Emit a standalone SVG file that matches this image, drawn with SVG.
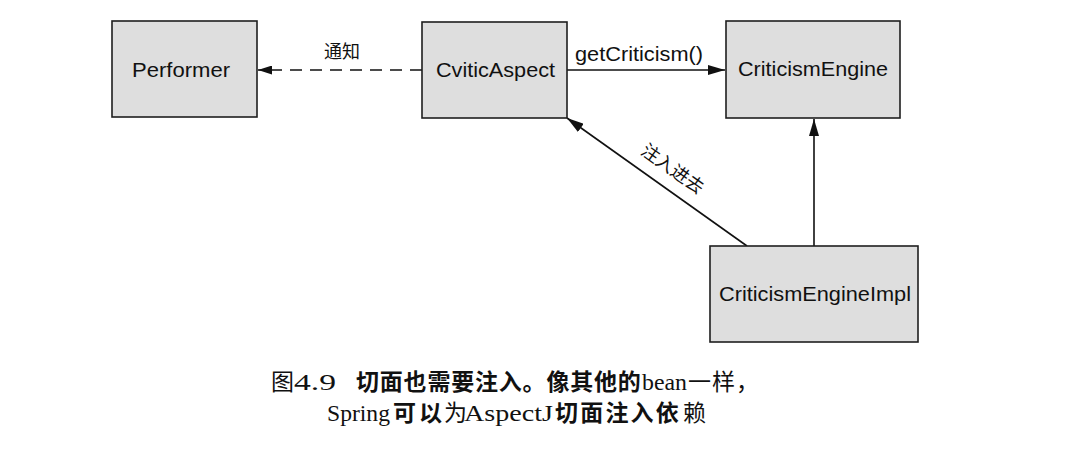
<svg xmlns="http://www.w3.org/2000/svg" width="1067" height="456" viewBox="0 0 1067 456">
<style>
.box{fill:#dedede;stroke:#1e1e1e;stroke-width:1.6}
.lbl{font-family:"Liberation Sans",Arial,sans-serif;font-size:21px;fill:#111}
.cjk{font-family:"Noto Sans CJK SC",sans-serif;font-size:18px;fill:#111}
.edge{stroke:#111;stroke-width:1.6;fill:none}
.cap{font-family:"Liberation Serif","Noto Sans CJK SC",serif;font-size:24px;fill:#111}
.b{font-family:"Noto Sans CJK SC",sans-serif;font-weight:700;font-size:23px}
.n{font-family:"Noto Sans CJK SC",sans-serif;font-weight:400;font-size:23px}
</style>
<defs>
<marker id="ah" markerUnits="userSpaceOnUse" markerWidth="18" markerHeight="10" refX="17" refY="5" orient="auto">
<path d="M0,0 L17,5 L0,10 z" fill="#111"/>
</marker>
<marker id="ahs" markerUnits="userSpaceOnUse" markerWidth="15" markerHeight="9" refX="14" refY="4.5" orient="auto">
<path d="M0,0 L14,4.5 L0,9 z" fill="#111"/>
</marker>
</defs>
<rect width="1067" height="456" fill="#fff"/>
<g id="connectors">
<line class="edge" x1="422" y1="70" x2="258" y2="70" stroke-dasharray="12 8" marker-end="url(#ahs)"/>
<line class="edge" x1="567" y1="70" x2="725" y2="70" marker-end="url(#ah)"/>
<line class="edge" x1="814" y1="246" x2="814" y2="119" marker-end="url(#ah)"/>
<line class="edge" x1="747" y1="246" x2="567" y2="118" marker-end="url(#ah)"/>
<text class="cjk" x="342" y="58" text-anchor="middle">通知</text>
<text class="lbl" x="575" y="61" textLength="128" lengthAdjust="spacingAndGlyphs">getCriticism()</text>
<text class="cjk" x="0" y="0" text-anchor="middle" font-size="19" transform="translate(669,174) rotate(35.4)">注入进去</text>
</g>
<g id="performer">
<rect class="box" x="112" y="21" width="145" height="96"/>
<text class="lbl" x="181" y="77" text-anchor="middle" textLength="98" lengthAdjust="spacingAndGlyphs">Performer</text>
</g>
<g id="cviticAspect">
<rect class="box" x="422" y="22" width="145" height="96"/>
<text class="lbl" x="495.5" y="77" text-anchor="middle" textLength="119" lengthAdjust="spacingAndGlyphs">CviticAspect</text>
</g>
<g id="criticismEngine">
<rect class="box" x="726" y="21" width="174" height="97"/>
<text class="lbl" x="813" y="76" text-anchor="middle" textLength="150" lengthAdjust="spacingAndGlyphs">CriticismEngine</text>
</g>
<g id="criticismEngineImpl">
<rect class="box" x="710" y="246" width="208" height="96"/>
<text class="lbl" x="815" y="301" text-anchor="middle" textLength="192" lengthAdjust="spacingAndGlyphs">CriticismEngineImpl</text>
</g>
<g id="caption">
<text class="cap" y="390"><tspan class="n" x="271">图</tspan><tspan x="294" textLength="42" lengthAdjust="spacingAndGlyphs">4.9</tspan><tspan x="356" class="b" letter-spacing="0.8">切面也需要注入。像其他的</tspan><tspan x="642" textLength="45" lengthAdjust="spacingAndGlyphs">bean</tspan><tspan x="688" class="n" letter-spacing="1">一样，</tspan></text>
<text class="cap" y="421"><tspan x="327" textLength="63" lengthAdjust="spacingAndGlyphs">Spring</tspan><tspan x="393" class="b" letter-spacing="3">可以</tspan><tspan x="444" class="n">为</tspan><tspan x="464" textLength="89" lengthAdjust="spacingAndGlyphs">AspectJ</tspan><tspan x="555" class="b" letter-spacing="2.2">切面注入依</tspan><tspan x="683" class="n">赖</tspan></text>
</g>
</svg>
